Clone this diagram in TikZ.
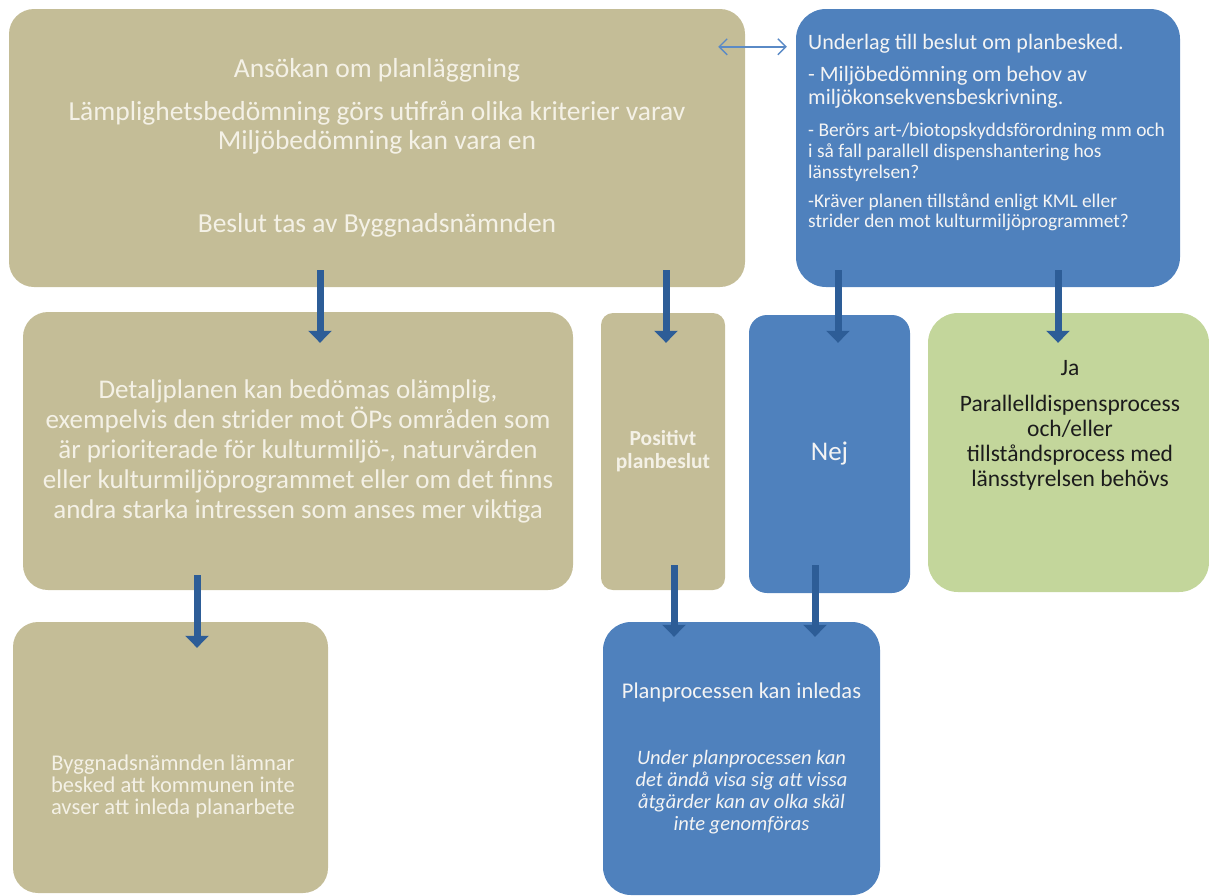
\documentclass[tikz,border=0pt]{standalone}
\usepackage{fontspec}
\setmainfont{Carlito}
\usetikzlibrary{arrows.meta,calc}
\definecolor{tanfill}{HTML}{C4BD97}
\definecolor{bluefill}{HTML}{4F81BD}
\definecolor{greenfill}{HTML}{C3D69B}
\definecolor{flowblue}{HTML}{2D5D97}
\definecolor{linkblue}{HTML}{5A8AC6}
\definecolor{tantext}{HTML}{F4F1E6}
\definecolor{bluetext}{HTML}{F4F4F4}
\definecolor{greentext}{HTML}{1C1C1C}
\begin{document}
\begin{tikzpicture}[x=1pt,y=-1pt,
  box/.style={rounded corners=#1,inner sep=0pt,align=center},
  tanbox/.style={box=#1,fill=tanfill,text=tantext},
  bluebox/.style={box=#1,fill=bluefill,text=bluetext},
  greenbox/.style={box=#1,fill=greenfill,text=greentext},
  trtext/.style={text=bluetext,inner sep=0pt,align=left,anchor=west},
  flow/.style={draw=flowblue,line width=7pt,-{Triangle[length=12pt,width=23pt]}},
  link/.style={draw=linkblue,line width=1.4pt,{Straight Barb[length=8pt,width=16pt]}-{Straight Barb[length=8pt,width=16pt]}}]
\useasboundingbox (0,0) rectangle (1209,895);
% boxes
\node[tanbox=25pt,minimum width=736pt,minimum height=278pt,font=\fontsize{27.5}{29}\selectfont] (ansokan) at (377,148)
  {Ansökan om planläggning\\[14pt] Lämplighetsbedömning görs utifrån olika kriterier varav\\ Miljöbedömning kan vara en\\[54pt] Beslut tas av Byggnadsnämnden};
\node[bluebox=30pt,minimum width=384pt,minimum height=278pt] (underlag) at (988,148) {};
\node[tanbox=25pt,minimum width=550pt,minimum height=278pt,font=\fontsize{27}{30}\selectfont] (olamplig) at (298,451)
  {Detaljplanen kan bedömas olämplig,\\ exempelvis den strider mot ÖPs områden som\\ är prioriterade för kulturmiljö-, naturvärden\\ eller kulturmiljöprogrammet eller om det finns\\ andra starka intressen som anses mer viktiga};
\node[tanbox=12pt,minimum width=124pt,minimum height=277pt,font=\bfseries\fontsize{21.5}{23}\selectfont] (positivt) at (663,451.5)
  {Positivt\\ planbeslut};
\node[bluebox=18pt,minimum width=161pt,minimum height=278pt,font=\fontsize{27}{30}\selectfont] (nej) at (829.5,454) {Nej};
\node[greenbox=30pt,minimum width=281pt,minimum height=279pt] (ja) at (1068.5,452.5) {};
\node[tanbox=25pt,minimum width=315pt,minimum height=271pt] (besked) at (170.5,757.5) {};
\node[bluebox=28pt,minimum width=277pt,minimum height=273pt,font=\fontsize{20.5}{22}\selectfont] (inledas) at (741.5,758.5)
  {{\fontsize{22.5}{22}\selectfont Planprocessen kan inledas}\\[44pt] \textit{Under planprocessen kan}\\ \textit{det ändå visa sig att vissa}\\ \textit{åtgärder kan av olka skäl}\\ \textit{inte genomföras}};
% texts
\node[trtext,font=\fontsize{22}{23}\selectfont] (rubrik) at (808,44) {Underlag till beslut om planbesked.};
\node[trtext,font=\fontsize{22}{23}\selectfont] (mkb) at (808,87) {- Miljöbedömning om behov av\\ miljökonsekvensbeskrivning.};
\node[trtext,font=\fontsize{19.4}{21}\selectfont] (berors) at (808,152) {- Berörs art-/biotopskyddsförordning mm och\\ i så fall parallell dispenshantering hos\\ länsstyrelsen?};
\node[trtext,font=\fontsize{19.4}{20}\selectfont] (kml) at (808,212) {-Kräver planen tillstånd enligt KML eller\\ strider den mot kulturmiljöprogrammet?};
\node[text=greentext,align=center,inner sep=0pt,font=\fontsize{23.5}{25}\selectfont] (jatext) at (1070,425)
  {Ja\\[11pt] Parallelldispensprocess\\ och/eller\\ tillståndsprocess med\\ länsstyrelsen behövs};
\node[text=tantext,align=center,inner sep=0pt,font=\fontsize{22.5}{22}\selectfont] (beskedtext) at (173,786)
  {Byggnadsnämnden lämnar\\ besked att kommunen inte\\ avser att inleda planarbete};
% arrows
\draw[link] ($(ansokan.north east)+(-27,38)$) -- ($(underlag.north west)+(-9,38)$);
\draw[flow] ($(ansokan.south)+(-57,-17)$) -- ($(olamplig.north)+(22,31)$);
\draw[flow] ($(ansokan.south)+(289,-17)$) -- ($(positivt.north)+(3,30)$);
\draw[flow] ($(underlag.south)+(-150,-17)$) -- ($(nej.north)+(8.5,28)$);
\draw[flow] ($(underlag.south)+(70,-17)$) -- ($(ja.north)+(-10.5,30)$);
\draw[flow] ($(olamplig.south)+(-101,-15)$) -- ($(besked.north)+(26.5,26)$);
\draw[flow] ($(positivt.south)+(11,-25)$) -- ($(inledas.north)+(-67.5,15)$);
\draw[flow] ($(nej.south)+(-14.5,-28)$) -- ($(inledas.north)+(73.5,15)$);
\end{tikzpicture}
\end{document}
